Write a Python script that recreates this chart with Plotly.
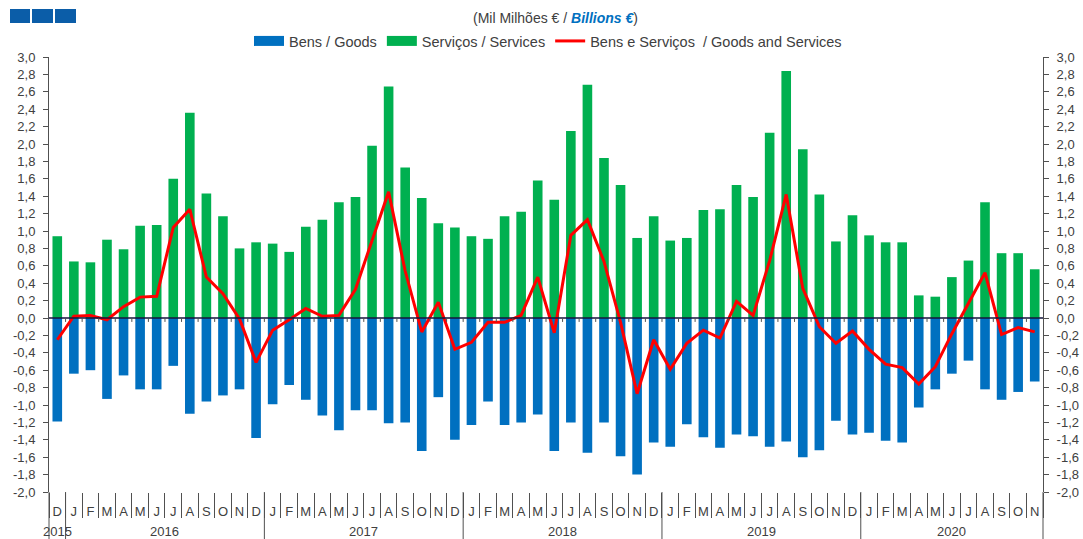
import plotly.graph_objects as go

# ---------------- data ----------------
month_labels = list("DJFMAMJJASONDJFMAMJJASONDJFMAMJJASONDJFMAMJJASONDJFMAMJJASON")

years = ["2015", "2016", "2017", "2018", "2019", "2020"]
year_first_idx = [0, 1, 13, 25, 37, 49]
year_last_idx = [0, 12, 24, 36, 48, 59]

goods = [-1.19, -0.64, -0.60, -0.93, -0.66, -0.82, -0.82, -0.55, -1.10, -0.96, -0.89, -0.82,
         -1.38, -0.99, -0.77, -0.94, -1.12, -1.29, -1.06, -1.06, -1.21, -1.20, -1.53, -0.91,
         -1.40, -1.23, -0.96, -1.23, -1.20, -1.11, -1.53, -1.20, -1.55, -1.20, -1.59, -1.80,
         -1.43, -1.48, -1.22, -1.37, -1.49, -1.34, -1.36, -1.48, -1.42, -1.60, -1.52, -1.18,
         -1.34, -1.32, -1.41, -1.43, -1.03, -0.82, -0.64, -0.49, -0.82, -0.94, -0.85, -0.73]

services = [0.94, 0.65, 0.64, 0.90, 0.79, 1.06, 1.07, 1.60, 2.36, 1.43, 1.17, 0.80,
            0.87, 0.855, 0.76, 1.05, 1.13, 1.33, 1.39, 1.98, 2.66, 1.73, 1.38, 1.09,
            1.04, 0.94, 0.91, 1.17, 1.22, 1.58, 1.36, 2.15, 2.68, 1.84, 1.53, 0.92,
            1.17, 0.89, 0.92, 1.24, 1.25, 1.53, 1.39, 2.13, 2.84, 1.94, 1.42, 0.88,
            1.18, 0.95, 0.87, 0.87, 0.26, 0.245, 0.47, 0.66, 1.33, 0.745, 0.745, 0.56]

total = [-0.25, 0.02, 0.03, -0.02, 0.13, 0.24, 0.25, 1.04, 1.25, 0.47, 0.28, -0.01,
         -0.51, -0.14, -0.02, 0.11, 0.02, 0.03, 0.33, 0.90, 1.45, 0.54, -0.16, 0.18,
         -0.36, -0.28, -0.05, -0.05, 0.03, 0.47, -0.17, 0.95, 1.13, 0.65, -0.05, -0.87,
         -0.25, -0.59, -0.29, -0.14, -0.23, 0.19, 0.03, 0.66, 1.42, 0.34, -0.10, -0.29,
         -0.15, -0.36, -0.53, -0.57, -0.76, -0.56, -0.18, 0.17, 0.52, -0.19, -0.11, -0.16]

y_tick_values = [-2.0, -1.8, -1.6, -1.4, -1.2, -1.0, -0.8, -0.6, -0.4, -0.2, 0.0,
                 0.2, 0.4, 0.6, 0.8, 1.0, 1.2, 1.4, 1.6, 1.8, 2.0, 2.2, 2.4, 2.6, 2.8, 3.0]
y_tick_text = [("%.1f" % v).replace(".", ",") for v in y_tick_values]

# ---------------- figure ----------------
W, H = 1083, 539
ML, MR, MT, MB = 49, 40, 57, 47
PW, PH = W - ML - MR, H - MT - MB

def px_x(x):
    return (x - ML) / PW

def px_y(y):
    return (H - MB - y) / PH

FONT = "Liberation Sans, Arial, sans-serif"
TXT = "#404040"
AX = "#505050"
BLUE = "#0070C0"
GREEN = "#00B050"
RED = "#FF0000"

n = len(month_labels)
x = list(range(n))

fig = go.Figure()
fig.add_trace(go.Bar(x=x, y=goods, name="Bens / Goods", showlegend=False,
                     marker=dict(color=BLUE, line=dict(width=0))))
fig.add_trace(go.Bar(x=x, y=services, name="Serviços / Services", showlegend=False,
                     marker=dict(color=GREEN, line=dict(width=0))))
fig.add_trace(go.Scatter(x=x, y=total, name="Bens e Serviços  / Goods and Services", mode="lines",
                         line=dict(color=RED, width=3), yaxis="y2", showlegend=False))
# legend entries (wide rectangles like the original)
fig.add_trace(go.Scatter(x=[None], y=[None], mode="lines", name="Bens / Goods",
                         line=dict(color=BLUE, width=10)))
fig.add_trace(go.Scatter(x=[None], y=[None], mode="lines", name="Serviços / Services",
                         line=dict(color=GREEN, width=10)))
fig.add_trace(go.Scatter(x=[None], y=[None], mode="lines", name="Bens e Serviços  / Goods and Services",
                         line=dict(color=RED, width=3)))

boundaries = [i + 0.5 for i in range(-1, n)]
year_bounds = [year_first_idx[k] - 0.5 for k in range(1, len(years))]

shapes = []
shapes.append(dict(type="line", xref="paper", yref="y", x0=0, x1=1, y0=0, y1=0,
                   line=dict(color="#14143c", width=1.3), layer="above"))
for b in boundaries[1:-1]:
    shapes.append(dict(type="line", xref="x", yref="y", x0=b, x1=b, y0=0, y1=-0.045,
                       line=dict(color=AX, width=1), layer="above"))
for b in year_bounds:
    shapes.append(dict(type="line", xref="paper", yref="paper", x0=(b + 0.5) / n, x1=(b + 0.5) / n,
                       y0=0, y1=px_y(H), line=dict(color=AX, width=1)))
for xp in [0, 1]:
    shapes.append(dict(type="line", xref="paper", yref="paper", x0=xp, x1=xp,
                       y0=0, y1=px_y(H), line=dict(color=AX, width=1)))
for (a, b2) in [(10, 30), (32, 53), (55, 76)]:
    shapes.append(dict(type="rect", xref="paper", yref="paper", x0=px_x(a), x1=px_x(b2),
                       y0=px_y(23), y1=px_y(9), fillcolor="#0B5DA8", line=dict(width=0)))

annotations = []
annotations.append(dict(xref="paper", yref="paper", x=px_x(555), y=px_y(18), showarrow=False,
                        xanchor="center", yanchor="middle",
                        text="(Mil Milhões € / <span style='color:#0070C0'><b><i>Billions €</i></b></span>)",
                        font=dict(family=FONT, size=14, color=TXT)))
for yr, a, b2 in zip(years, year_first_idx, year_last_idx):
    annotations.append(dict(xref="x", yref="paper", x=(a + b2) / 2, y=px_y(531), showarrow=False,
                            xanchor="center", yanchor="middle", text=yr,
                            font=dict(family=FONT, size=13, color=TXT)))

yaxis_common = dict(range=[-2.0, 3.0], tickmode="array", tickvals=y_tick_values, ticktext=y_tick_text,
                    ticklen=5, tickcolor=AX, linecolor=AX, linewidth=1, showgrid=False, zeroline=False,
                    tickfont=dict(family=FONT, size=13, color=TXT), fixedrange=True, automargin=False)

fig.update_layout(
    width=W, height=H, autosize=False,
    margin=dict(l=ML, r=MR, t=MT, b=MB, pad=0, autoexpand=False),
    paper_bgcolor="white", plot_bgcolor="white",
    barmode="relative", bargap=0.42,
    font=dict(family=FONT, size=13, color=TXT),
    showlegend=True,
    legend=dict(orientation="h", x=px_x(249), xanchor="left", y=px_y(41), yanchor="middle",
                font=dict(family=FONT, size=14.5, color=TXT), bgcolor="rgba(0,0,0,0)",
                traceorder="normal", itemwidth=30, tracegroupgap=0),
    xaxis=dict(range=[-0.5, n - 0.5], tickmode="array", tickvals=x, ticktext=month_labels,
               ticks="outside", ticklen=7, tickcolor="rgba(0,0,0,0)", showline=False,
               showgrid=False, zeroline=False, fixedrange=True, automargin=False,
               tickfont=dict(family=FONT, size=13, color=TXT),
               minor=dict(tickmode="array", tickvals=boundaries, ticks="outside", ticklen=25,
                          tickcolor=AX, tickwidth=1, showgrid=False)),
    yaxis=dict(side="left", ticks="outside", showline=True, ticklabelstandoff=5, **yaxis_common),
    yaxis2=dict(side="right", overlaying="y", anchor="x", ticks="outside", showline=True,
                ticklabelstandoff=5, **yaxis_common),
    yaxis3=dict(side="left", overlaying="y", anchor="x", ticks="inside", showline=False,
                showticklabels=False, **yaxis_common),
    yaxis4=dict(side="right", overlaying="y", anchor="x", ticks="inside", showline=False,
                showticklabels=False, **yaxis_common),
    shapes=shapes,
    annotations=annotations,
)

fig.write_html("out.html", config={"displayModeBar": False},
               post_script="document.body.style.margin='0';document.body.style.overflow='hidden';")
